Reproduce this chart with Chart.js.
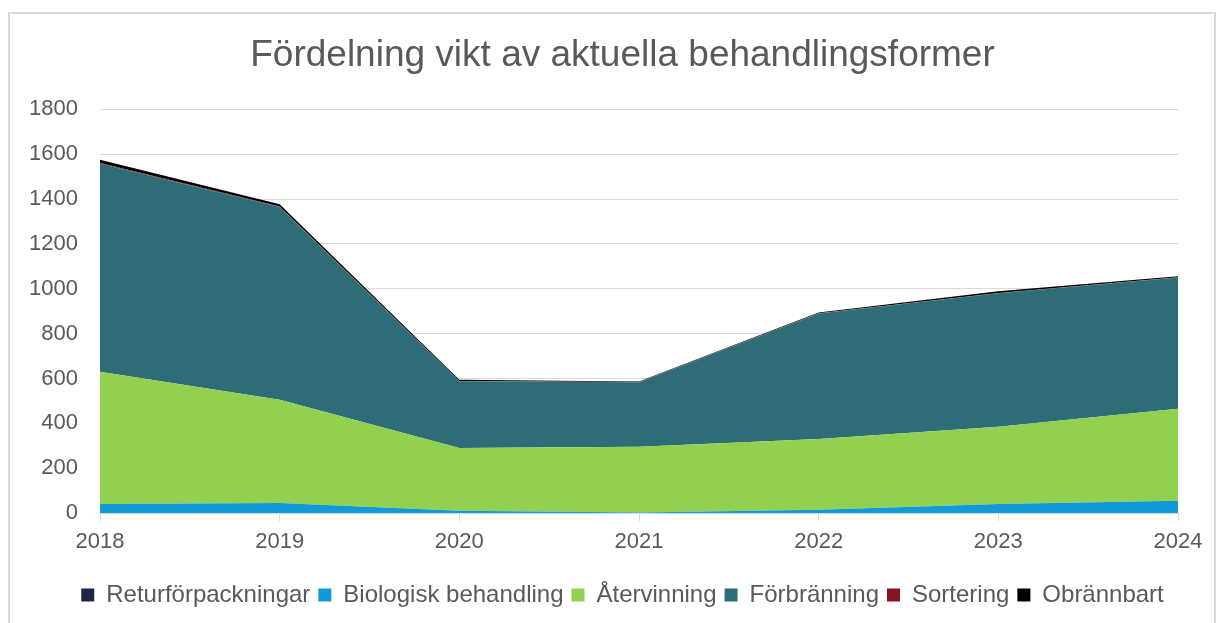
<!DOCTYPE html>
<html>
<head>
<meta charset="utf-8">
<script src="https://cdn.jsdelivr.net/npm/chart.js@4"></script>
<style>
  body { margin: 0; background: #fff; }
  #frame {
    position: absolute; left: 8px; top: 12px; width: 1204px; height: 700px;
    border: 2px solid #d9d9d9;
  }
  #wrap { position: absolute; left: 0; top: 0; width: 1225px; height: 623px; }
</style>
</head>
<body>
<div id="frame"></div>
<div id="wrap"><canvas id="chart" width="1225" height="623"></canvas></div>
<script>
// Values (ton per year)
const years = ['2018', '2019', '2020', '2021', '2022', '2023', '2024'];
const returforpackningar = [0, 0, 0, 0, 0, 0, 0];
const biologisk = [40, 45, 10, 2, 15, 40, 55];
const atervinning = [590, 460, 280, 293, 315, 345, 410];
const forbranning = [928, 860, 298, 288, 560, 595, 585];
const sortering = [3, 2, 1, 1, 1, 1, 1];
const obrannbart = [15, 10, 5, 3, 3, 8, 5];

const seriesNames = ['Returförpackningar', 'Biologisk behandling', 'Återvinning', 'Förbränning', 'Sortering', 'Obrännbart'];
const seriesData = [returforpackningar, biologisk, atervinning, forbranning, sortering, obrannbart];
const seriesColors = ['#1f2747', '#129ad8', '#92d050', '#2e6d77', '#86131f', '#000000'];

const textColor = '#595959';
const gridColor = '#d9d9d9';
const fontFamily = 'Arial, "Liberation Sans", sans-serif';

const datasets = seriesNames.map((name, i) => ({
    label: name,
    data: seriesData[i],
    backgroundColor: seriesColors[i],
    borderColor: seriesColors[i],
    borderWidth: 0,
    pointRadius: 0,
    tension: 0,
    fill: i === 0 ? 'origin' : '-1'
}));

new Chart(document.getElementById('chart'), {
    type: 'line',
    data: { labels: years, datasets: datasets },
    options: {
        responsive: false,
        animation: false,
        layout: { padding: { left: 20, right: 0, top: 0, bottom: 6 } },
        plugins: {
            title: {
                display: true,
                text: 'Fördelning vikt av aktuella behandlingsformer',
                color: textColor,
                font: { family: fontFamily, size: 37, weight: 'normal' },
                padding: { top: 34, bottom: 31 }
            },
            legend: {
                position: 'bottom',
                labels: {
                    color: textColor,
                    font: { family: fontFamily, size: 24 },
                    boxWidth: 13,
                    boxHeight: 13,
                    padding: 8
                }
            },
            tooltip: { enabled: false }
        },
        scales: {
            x: {
                offset: false,
                grid: { drawOnChartArea: false, drawTicks: true, tickLength: 8, color: gridColor },
                border: { color: gridColor, width: 1 },
                ticks: { color: textColor, font: { family: fontFamily, size: 22 }, padding: 8, maxRotation: 0 },
                afterFit: (scale) => { scale.height = 62; }
            },
            y: {
                stacked: true,
                min: 0,
                max: 1800,
                grid: { color: gridColor, drawTicks: false },
                border: { display: false },
                ticks: {
                    stepSize: 200,
                    color: textColor,
                    font: { family: fontFamily, size: 22 },
                    padding: 22,
                    callback: (v) => String(v)
                },
                afterFit: (scale) => { scale.width = 80; }
            },
            // empty right axis, only reserves space so the plot ends where the reference does
            spacer: {
                type: 'linear',
                position: 'right',
                grid: { display: false },
                border: { display: false },
                ticks: { display: false },
                afterFit: (scale) => { scale.width = 47; }
            }
        }
    }
});
</script>
</body>
</html>
